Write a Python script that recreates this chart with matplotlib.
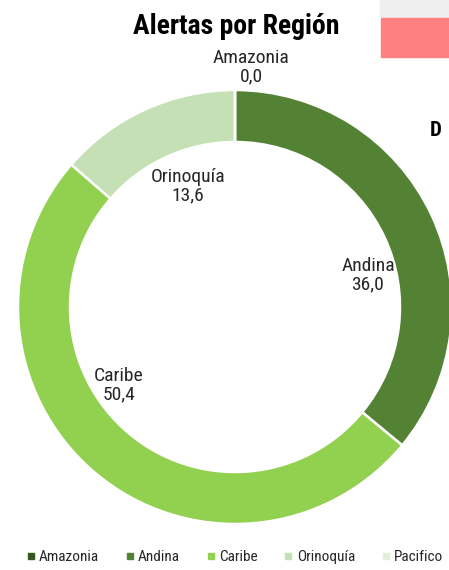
import matplotlib
matplotlib.use("Agg")
import matplotlib.pyplot as plt
from matplotlib.lines import Line2D
from matplotlib.patches import Rectangle

# Data
regions = ["Amazonia", "Andina", "Caribe", "Orinoquía", "Pacifico"]
alerts = [0.0, 36.0, 50.4, 13.6, 0.0]
colors = ["#375623", "#548235", "#92D050", "#C5E0B4", "#E2EFDA"]
title = "Alertas por Región"

W, H = 449, 570
FONT = ["Roboto Condensed", "Liberation Sans", "DejaVu Sans"]
plt.rcParams["font.family"] = FONT

fig = plt.figure(figsize=(W / 100, H / 100), dpi=100)
ax = fig.add_axes([0, 0, 1, 1])

cx, cy, r = 235, H - 307, 217
wedges, _ = ax.pie(alerts, colors=colors, startangle=90, counterclock=False,
                   center=(cx, cy), radius=r,
                   wedgeprops=dict(width=52, edgecolor="white", linewidth=1.8))
ax.set_xlim(0, W)
ax.set_ylim(0, H)
ax.set_aspect("equal")
ax.axis("off")

# data labels (pixel positions of each label block, top-left origin)
label_pos = {"Amazonia": (251, 67), "Andina": (368, 275),
             "Caribe": (119, 385), "Orinoquía": (188, 186)}
for name, val in zip(regions, alerts):
    if name in label_pos:
        x, y = label_pos[name]
        txt = f"{name}\n{val:.1f}".replace(".", ",")
        ax.text(x, H - y, txt, ha="center", va="center", fontsize=14,
                color="#262626", linespacing=1.0)

fig.text(236 / W, 1 - 27 / H, title, ha="center", va="center",
         fontsize=20, fontweight="bold", color="black")

# neighbouring panel elements at the right edge
fig.patches.append(Rectangle((380 / W, 1 - 17 / H), 69 / W, 17 / H,
                             transform=fig.transFigure, color="#EFEFEF"))
fig.patches.append(Rectangle((381 / W, 1 - 57 / H), 68 / W, 39 / H,
                             transform=fig.transFigure, color="#FF8080"))
fig.text(430 / W, 1 - 131 / H, "D", ha="left", va="center",
         fontsize=15, fontweight="bold", color="black")

handles = [Line2D([], [], marker="s", linestyle="none", markersize=4.5,
                  markerfacecolor=c, markeredgecolor=c) for c in colors]
fig.legend(handles, regions, loc="center", bbox_to_anchor=(235 / W, 1 - 557 / H),
           ncol=5, frameon=False, fontsize=11, handlelength=0.5,
           handletextpad=0.3, columnspacing=1.75, labelcolor="#262626")

fig.savefig("out.png", dpi=100)
